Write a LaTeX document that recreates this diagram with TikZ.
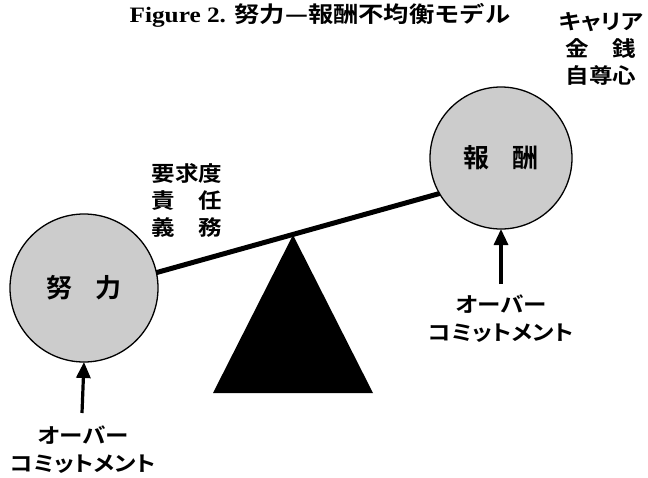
\documentclass[tikz,border=0pt]{standalone}
\usepackage{fontspec}
\setmainfont{Liberation Serif}
\newfontfamily\titlelat[FakeStretch=1.15]{Liberation Serif Bold}
\newfontfamily\jpt[FakeStretch=1.15]{Noto Sans CJK JP Bold}
\newfontfamily\jpw[RawFeature=+palt,FakeStretch=1.12]{Noto Sans CJK JP Bold}
\newfontfamily\jpb{Noto Sans CJK JP Bold}
\usetikzlibrary{arrows.meta}
\tikzset{
  ball/.style={circle, draw=black, line width=1.3pt, fill=black!20, inner sep=0pt, outer sep=0pt},
  balltext/.style={font=\jpb\fontsize{26}{30}\selectfont},
  lbl/.style={font=\jpw\fontsize{21}{27}\selectfont, align=center, inner sep=0pt},
  albl/.style={font=\jpw\fontsize{21}{28}\selectfont, align=center, inner sep=0pt},
  beam/.style={line width=5pt},
  uparrow/.style={line width=3.2pt, -{Triangle[length=16pt,width=14pt]}},
}
\begin{document}
\begin{tikzpicture}[x=1pt,y=-1pt]
\useasboundingbox (0,0) rectangle (648,477);
% title
\node[inner sep=0pt] (title) at (320,15) {\fontsize{22}{26}\selectfont{\titlelat Figure 2. }{\jpt 努力—報酬不均衡モデル}};
% circles
\node[ball, minimum size=148pt, balltext] (L) at (84,288) {努\hspace{0.85em}力};
\node[ball, minimum size=142pt, balltext] (R) at (501,158) {報\hspace{0.85em}酬};
% beam
\draw[beam] (L.12) -- (R.210);
% fulcrum
\fill[black] (293,235) -- (213,393) -- (373,393) -- cycle;
% labels
\node[lbl] (req) at (187,200) {要求度\\責　任\\義　務};
\node[lbl] (rew) at (601,49) {キャリア\\金　銭\\自尊心};
% over-commitment
\node[albl] (oL) at (83,450) {オーバー\\コミットメント};
\node[albl] (oR) at (501,319) {オーバー\\コミットメント};
\coordinate (aL) at (82,413);
\coordinate (aR) at (501,284);
\draw[uparrow] (aL) -- (L.south);
\draw[uparrow] (aR) -- (R.south);
\end{tikzpicture}
\end{document}
